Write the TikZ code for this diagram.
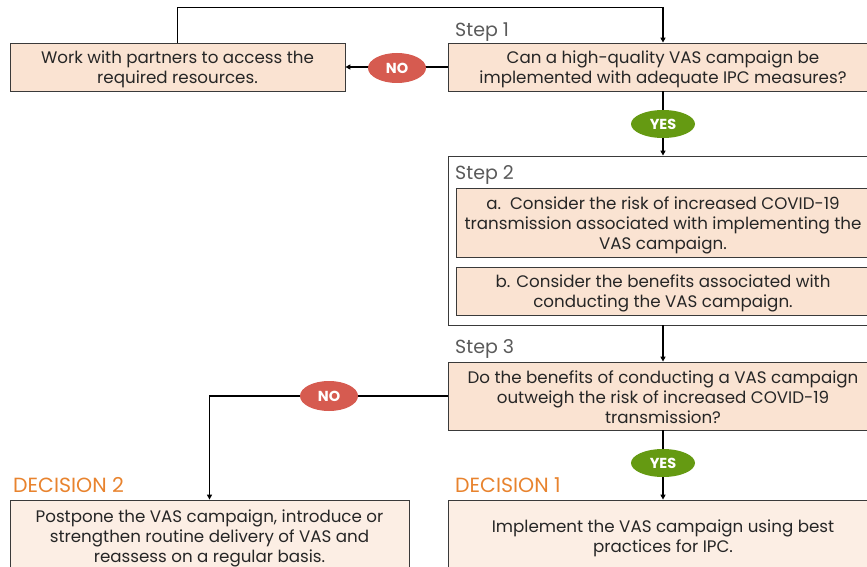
\documentclass[tikz,border=0pt]{standalone}
\usepackage{fontspec}
\setmainfont{Poppins}
\usetikzlibrary{arrows.meta,shapes.geometric}
\definecolor{peach}{HTML}{FAE3D2}
\definecolor{lightpeach}{HTML}{FCEEE4}
\definecolor{boxline}{HTML}{3A3A3A}
\definecolor{textcol}{HTML}{262626}
\definecolor{graytext}{HTML}{5A5A5A}
\definecolor{nored}{HTML}{D65B50}
\definecolor{yesgreen}{HTML}{659A12}
\definecolor{decorange}{HTML}{E8832E}
\tikzset{
  box/.style={draw=boxline, line width=0.8pt, fill=peach, inner sep=0pt},
  dbox/.style={box, fill=lightpeach},
  txt/.style={align=center, inner sep=0pt, text=textcol},
  outerbox/.style={draw=boxline, line width=0.8pt, fill=white, inner sep=0pt},
  steplbl/.style={text=graytext, anchor=base west, inner sep=0pt, font=\fontsize{19}{22}\selectfont},
  declbl/.style={text=decorange, anchor=base west, inner sep=0pt, font=\fontsize{20.5}{24}\selectfont},
  arr/.style={draw=black, line width=1.6pt, -{Triangle[length=5pt,width=5pt]}},
  nooval/.style={ellipse, fill=nored, minimum width=58, minimum height=30, inner sep=0pt, text=white, font=\bfseries\fontsize{14.5}{14.5}\selectfont},
  yesoval/.style={ellipse, fill=yesgreen, minimum width=64, minimum height=28, inner sep=0pt, text=white, font=\bfseries\fontsize{14.5}{14.5}\selectfont}
}
\begin{document}
\begin{tikzpicture}[x=1pt,y=-1pt, font=\fontsize{16.7}{20}\selectfont]
\useasboundingbox (0,0) rectangle (867,567);
\clip (0,0) rectangle (867,567);
% boxes
\node[box, minimum width=335, minimum height=48] (work) at (177.5,67) {};
\node[txt] (workt) at ([yshift=-2.5pt]work.center) {Work with partners to access the\\required resources.};
\node[box, minimum width=430, minimum height=48] (s1) at (663,67) {};
\node[txt] (s1t) at ([yshift=-2.5pt]s1.center) {Can a high-quality VAS campaign be\\implemented with adequate IPC measures?};
\node[outerbox, minimum width=429, minimum height=169] (step2) at (662.5,240.5) {};
\node[box, minimum width=414, minimum height=69] (s2a) at (663,222.5) {};
\node[txt] (s2at) at ([yshift=-2.5pt]s2a.center) {a.\ \ Consider the risk of increased COVID-19\\transmission associated with implementing the\\VAS campaign.};
\node[box, minimum width=414, minimum height=48] (s2b) at (663,291) {};
\node[txt] (s2bt) at ([yshift=-2.5pt]s2b.center) {b. Consider the benefits associated with\\conducting the VAS campaign.};
\node[box, minimum width=430, minimum height=68] (s3) at (663,396) {};
\node[txt] (s3t) at ([yshift=-1.5pt]s3.center) {Do the benefits of conducting a VAS campaign\\outweigh the risk of increased COVID-19\\transmission?};
\node[dbox, minimum width=399, minimum height=76] (d2) at (209.5,538) {};
\node[txt] (d2t) at ([yshift=-0.3pt]d2.center) {Postpone the VAS campaign, introduce or\\strengthen routine delivery of VAS and\\reassess on a regular basis.};
\node[dbox, minimum width=430, minimum height=72] (d1) at (663,536) {};
\node[txt] (d1t) at ([yshift=-2pt]d1.center) {Implement the VAS campaign using best\\practices for IPC.};
% labels
\node[steplbl] (l1) at (455,37) {Step 1};
\node[steplbl] (l2) at (455,179) {Step 2};
\node[steplbl] (l3) at (455,353) {Step 3};
\node[declbl] (dl2) at (13,492) {DECISION 2};
\node[declbl] (dl1) at (455,492) {DECISION 1};
% connectors
\draw[arr] (work.north) -- ++(0,-35) -| (s1.north);
\draw[arr] (s1.west) -- (work.east);
\draw[arr] (s1.south) -- (s1.south |- step2.north);
\draw[arr] (s1.south |- step2.south) -- (s3.north);
\draw[arr] (s3.west) -| (d2.north);
\draw[arr] (s3.south) -- (d1.north);
% ovals
\node[nooval] (no1) at (397,68) {NO};
\node[yesoval] (yes1) at (663,124) {YES};
\node[nooval] (no2) at (329,396) {NO};
\node[yesoval] (yes2) at (663,463) {YES};
\end{tikzpicture}
\end{document}
